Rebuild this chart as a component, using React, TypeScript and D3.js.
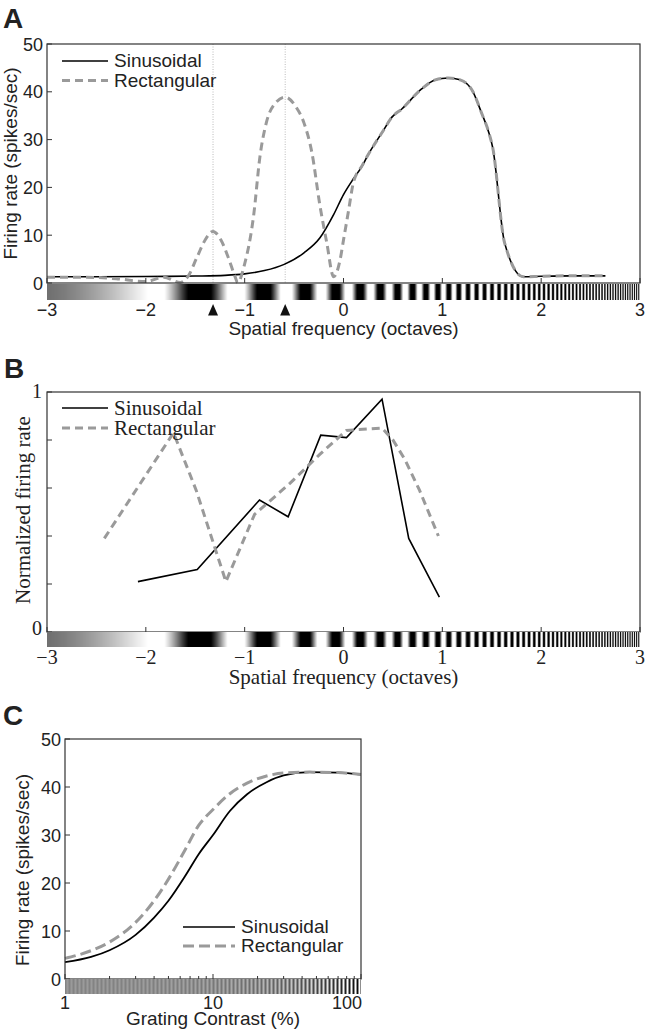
import * as d3 from 'd3';
import React from 'react';

const W = 646;
const H = 1036;
const SANS = 'Liberation Sans, Arial, Helvetica, sans-serif';
const SERIF = 'Liberation Serif, Times New Roman, serif';
const GREY = '#9a9a9a';
const INK = '#222';

// ---- panel A: firing rate vs spatial frequency (octaves)
const aSinOct = [-3, -2.5, -2, -1.5, -1.2, -1.0, -0.8, -0.6, -0.4, -0.24, -0.1, 0.0, 0.1, 0.19, 0.24, 0.4, 0.49, 0.59, 0.79, 0.93, 1.06, 1.18, 1.31, 1.4, 1.47, 1.51, 1.63, 1.82, 2.0, 2.3, 2.65];
const aSinRate = [1.3, 1.3, 1.35, 1.45, 1.6, 1.9, 2.6, 3.9, 6.3, 9.4, 14.3, 18.5, 21.8, 24.5, 26.5, 31.8, 34.7, 36.4, 40.6, 42.5, 42.9, 42.5, 40.0, 35.4, 31.5, 28.3, 8.4, 1.3, 1.4, 1.5, 1.5];
const aRectOct = [-3, -2.6, -2.3, -2.0, -1.82, -1.65, -1.57, -1.48, -1.4, -1.32, -1.24, -1.16, -1.1, -1.07, -1.0, -0.91, -0.845, -0.78, -0.69, -0.59, -0.48, -0.4, -0.32, -0.24, -0.17, -0.1, -0.035, 0.0, 0.05, 0.1, 0.19, 0.24, 0.4, 0.49, 0.59, 0.79, 0.93, 1.06, 1.18, 1.31, 1.4, 1.47, 1.51, 1.63, 1.82, 2.0, 2.3, 2.65];
const aRectRate = [1.2, 1.2, 0.9, 0.3, 1.2, 0.1, 1.5, 5.5, 9.0, 10.8, 9.0, 5.0, 1.5, 0.1, 4.0, 14, 26.5, 33.6, 37.6, 38.9, 36.8, 33.5, 27.3, 16.4, 8.5, 1.3, 4.8, 9.0, 15, 21, 24.6, 26.5, 31.8, 34.7, 36.4, 40.6, 42.5, 42.9, 42.5, 40.0, 35.4, 31.5, 28.3, 8.4, 1.3, 1.4, 1.5, 1.5];
const aMarkers = [-1.32, -0.59];
const octTicks = [-3, -2, -1, 0, 1, 2, 3];
const rateTicks = [0, 10, 20, 30, 40, 50];

// ---- panel B: normalized firing rate
const bSinOct = [-2.08, -1.48, -0.85, -0.56, -0.23, 0.03, 0.39, 0.66, 0.97];
const bSinNorm = [0.21, 0.26, 0.55, 0.48, 0.82, 0.81, 0.97, 0.39, 0.145];
const bRectOct = [-2.42, -1.72, -1.49, -1.19, -0.9, -0.54, -0.24, 0.03, 0.39, 0.5, 0.62, 0.77, 0.96];
const bRectNorm = [0.39, 0.83, 0.59, 0.21, 0.49, 0.62, 0.74, 0.84, 0.85, 0.8, 0.72, 0.59, 0.4];
const normTicks = [0, 0.2, 0.4, 0.6, 0.8, 1];

// ---- panel C: contrast response
const cContrast = [1, 1.5, 2, 3, 4, 5, 6.5, 8, 10, 13, 17, 23, 30, 45, 70, 100];
const cSinRate = [3.5, 4.6, 6.0, 9.2, 12.8, 16.3, 21.5, 26, 30, 35, 38.5, 41, 42.4, 43.1, 43.0, 42.6];
const cRectRate = [4.3, 5.9, 7.7, 11.8, 16.3, 20.8, 27, 32, 35.3, 38.6, 40.8, 42.3, 42.9, 43.1, 43.0, 42.6];
const contrastLabels = [1, 10, 100];

const legendNames = ['Sinusoidal', 'Rectangular'];

const zip = (xs: number[], ys: number[]) => xs.map((x, i) => [x, ys[i]] as [number, number]);

// chirped grating shown under the frequency axis
const CHIRP_A = 4.7;
const CHIRP_K = 1.2;
const CHIRP_X0 = -1.45;
function chirpLum(oct: number) {
  const n = CHIRP_A * (Math.pow(2, CHIRP_K * oct) - Math.pow(2, CHIRP_K * CHIRP_X0));
  if (n < -0.5) {
    const xw = Math.log2(Math.pow(2, CHIRP_K * CHIRP_X0) - 0.5 / CHIRP_A) / CHIRP_K;
    const t = Math.max(0, (oct + 3) / (xw + 3));
    return 0.44 + 0.56 * Math.pow(t, 1.4);
  }
  const v = 0.5 - 0.75 * Math.cos(2 * Math.PI * n);
  return Math.max(0, Math.min(1, v));
}
const grey = (l: number) => {
  const g = Math.round(Math.max(0, Math.min(1, l)) * 255);
  return `rgb(${g},${g},${g})`;
};

function ChirpBar({x, y0, h}: {x: d3.ScaleLinear<number, number>; y0: number; h: number}) {
  const [r0, r1] = x.range();
  const cols = d3.range(Math.floor(r0), Math.ceil(r1));
  return (
    <g shapeRendering="crispEdges">
      {cols.map((px) => {
        let s = 0;
        for (let k = 0; k < 8; k++) s += chirpLum(x.invert(px + (k + 0.5) / 8));
        return <rect key={px} x={px} y={y0} width={1.05} height={h} fill={grey(s / 8)} />;
      })}
    </g>
  );
}

function ContrastBar({x, y0, h}: {x: d3.ScaleLogarithmic<number, number>; y0: number; h: number}) {
  const [r0, r1] = x.range();
  const cols = d3.range(Math.floor(r0), Math.ceil(r1));
  return (
    <g shapeRendering="crispEdges">
      {cols.map((px) => {
        const c = x.invert(px + 0.5);
        const amp = 0.04 + 0.5 * (c / 100);
        const l = 0.56 - amp * Math.cos((2 * Math.PI * (px - r0)) / 4);
        return <rect key={px} x={px} y={y0} width={1.05} height={h} fill={grey(l)} />;
      })}
    </g>
  );
}

function Legend({x0, y0, gap, font, size, dash, len}: {x0: number; y0: number; gap: number; font: string; size: number; dash: string; len: number}) {
  return (
    <g>
      {legendNames.map((name, i) => (
        <g key={name}>
          <line x1={x0} x2={x0 + len} y1={y0 + i * gap} y2={y0 + i * gap}
            stroke={i === 0 ? '#000' : GREY} strokeWidth={i === 0 ? 1.6 : 3}
            strokeDasharray={i === 0 ? undefined : dash} />
          <text x={x0 + len + 6} y={y0 + i * gap + size * 0.33} fontFamily={font} fontSize={size} fill={INK}>{name}</text>
        </g>
      ))}
    </g>
  );
}

const fmtOct = (v: number) => (v < 0 ? '\u2212' + Math.abs(v) : String(v));

export default function App() {
  // panel A scales
  const xA = d3.scaleLinear().domain([-3, 3]).range([47, 640]);
  const yA = d3.scaleLinear().domain([0, 50]).range([283, 44]);
  // panel B scales
  const xB = d3.scaleLinear().domain([-3, 3]).range([47, 640]);
  const yB = d3.scaleLinear().domain([0, 1]).range([632, 392]);
  // panel C scales
  const xC = d3.scaleLog().domain([1, 100]).range([65, 361]);
  const yC = d3.scaleLinear().domain([0, 50]).range([979, 739]);

  const smoothA = d3.line().x((d) => xA(d[0])).y((d) => yA(d[1])).curve(d3.curveMonotoneX);
  const lineB = d3.line().x((d) => xB(d[0])).y((d) => yB(d[1]));
  const smoothC = d3.line().x((d) => xC(d[0])).y((d) => yC(d[1])).curve(d3.curveMonotoneX);

  const cTicks = xC.ticks();

  return (
    <svg width={W} height={H} style={{position: 'absolute', left: 0, top: 0, background: '#fff'}}>
      {/* ---------------- A ---------------- */}
      <text x={3} y={28} fontFamily={SANS} fontWeight="bold" fontSize={28} fill={INK}>A</text>
      {aMarkers.map((m) => (
        <line key={m} x1={xA(m)} x2={xA(m)} y1={yA(50)} y2={yA(0)} stroke="#aaa" strokeWidth={0.8} strokeDasharray="1,1.5" />
      ))}
      <path d={smoothA(zip(aSinOct, aSinRate)) || ''} fill="none" stroke="#000" strokeWidth={1.6} />
      <path d={smoothA(zip(aRectOct, aRectRate)) || ''} fill="none" stroke={GREY} strokeWidth={3} strokeDasharray="8,5" />
      <rect x={xA(-3)} y={yA(50)} width={xA(3) - xA(-3)} height={yA(0) - yA(50)} fill="none" stroke="#333" strokeWidth={1.2} />
      {rateTicks.map((t) => (
        <g key={t}>
          <line x1={xA(-3)} x2={xA(-3) + 5} y1={yA(t)} y2={yA(t)} stroke="#333" />
          <text x={43} y={yA(t) + 6.5} textAnchor="end" fontFamily={SANS} fontSize={18} fill={INK}>{t}</text>
        </g>
      ))}
      <ChirpBar x={xA} y0={284} h={16} />
      {octTicks.map((t) => (
        <g key={t}>
          <line x1={xA(t)} x2={xA(t)} y1={yA(0)} y2={yA(0) - 5} stroke="#333" />
          <text x={xA(t)} y={316} textAnchor="middle" fontFamily={SANS} fontSize={18} fill={INK}>{fmtOct(t)}</text>
        </g>
      ))}
      {aMarkers.map((m) => (
        <path key={m} d={`M${xA(m) - 5},315.5L${xA(m) + 5},315.5L${xA(m)},304Z`} fill="#111" />
      ))}
      <text x={xA(0)} y={335} textAnchor="middle" fontFamily={SANS} fontSize={19} fill={INK}>Spatial frequency (octaves)</text>
      <text transform={`translate(17,${(yA(0) + yA(50)) / 2}) rotate(-90)`} textAnchor="middle" fontFamily={SANS} fontSize={19} fill={INK}>Firing rate (spikes/sec)</text>
      <Legend x0={62} y0={61} gap={19.5} font={SANS} size={19} dash="8,5" len={46} />

      {/* ---------------- B ---------------- */}
      <text x={4} y={378} fontFamily={SANS} fontWeight="bold" fontSize={28} fill={INK}>B</text>
      <path d={lineB(zip(bSinOct, bSinNorm)) || ''} fill="none" stroke="#000" strokeWidth={1.6} />
      <path d={lineB(zip(bRectOct, bRectNorm)) || ''} fill="none" stroke={GREY} strokeWidth={3} strokeDasharray="8,5" />
      <rect x={xB(-3)} y={yB(1)} width={xB(3) - xB(-3)} height={yB(0) - yB(1)} fill="none" stroke="#333" strokeWidth={1.2} />
      {normTicks.map((t) => (
        <g key={t}>
          <line x1={xB(-3)} x2={xB(-3) + 5} y1={yB(t)} y2={yB(t)} stroke="#333" />
          {(t === 0 || t === 1) && (
            <text x={42} y={yB(t) + (t === 1 ? 6 : 3)} textAnchor="end" fontFamily={SERIF} fontSize={20} fill={INK}>{t}</text>
          )}
        </g>
      ))}
      <ChirpBar x={xB} y0={632} h={15} />
      {octTicks.map((t) => (
        <g key={t}>
          <line x1={xB(t)} x2={xB(t)} y1={yB(0)} y2={yB(0) - 5} stroke="#333" />
          <text x={xB(t)} y={664} textAnchor="middle" fontFamily={SERIF} fontSize={20} fill={INK}>{fmtOct(t)}</text>
        </g>
      ))}
      <text x={xB(0)} y={684} textAnchor="middle" fontFamily={SERIF} fontSize={21} fill={INK}>Spatial frequency (octaves)</text>
      <text transform={`translate(30,510) rotate(-90)`} textAnchor="middle" fontFamily={SERIF} fontSize={21} fill={INK}>Normalized firing rate</text>
      <Legend x0={62} y0={408} gap={20} font={SERIF} size={21} dash="8,5" len={46} />

      {/* ---------------- C ---------------- */}
      <text x={3} y={725} fontFamily={SANS} fontWeight="bold" fontSize={28} fill={INK}>C</text>
      <path d={smoothC(zip(cContrast, cSinRate)) || ''} fill="none" stroke="#000" strokeWidth={1.8} />
      <path d={smoothC(zip(cContrast, cRectRate)) || ''} fill="none" stroke={GREY} strokeWidth={3} strokeDasharray="11,5" />
      <rect x={xC(1)} y={yC(50)} width={xC(100) - xC(1)} height={yC(0) - yC(50)} fill="none" stroke="#333" strokeWidth={1.2} />
      {rateTicks.map((t) => (
        <g key={t}>
          <line x1={xC(1)} x2={xC(1) + 5} y1={yC(t)} y2={yC(t)} stroke="#333" />
          <text x={61} y={yC(t) + 6.5} textAnchor="end" fontFamily={SANS} fontSize={18} fill={INK}>{t}</text>
        </g>
      ))}
      <ContrastBar x={xC} y0={979} h={15} />
      {cTicks.map((t) => {
        const major = contrastLabels.includes(t);
        return <line key={t} x1={xC(t)} x2={xC(t)} y1={yC(0)} y2={yC(0) - (major ? 5 : 3)} stroke="#333" />;
      })}
      {contrastLabels.map((t) => (
        <text key={t} x={t === 100 ? xC(t) + 1 : xC(t)} y={1009} textAnchor={t === 100 ? 'end' : 'middle'} fontFamily={SANS} fontSize={18} fill={INK}>{t}</text>
      ))}
      <text x={xC(10)} y={1025} textAnchor="middle" fontFamily={SANS} fontSize={19} fill={INK}>Grating Contrast (%)</text>
      <text transform={`translate(29,870) rotate(-90)`} textAnchor="middle" fontFamily={SANS} fontSize={19} fill={INK}>Firing rate (spikes/sec)</text>
      <Legend x0={183} y0={927} gap={19} font={SANS} size={19} dash="11,5" len={52} />
    </svg>
  );
}
